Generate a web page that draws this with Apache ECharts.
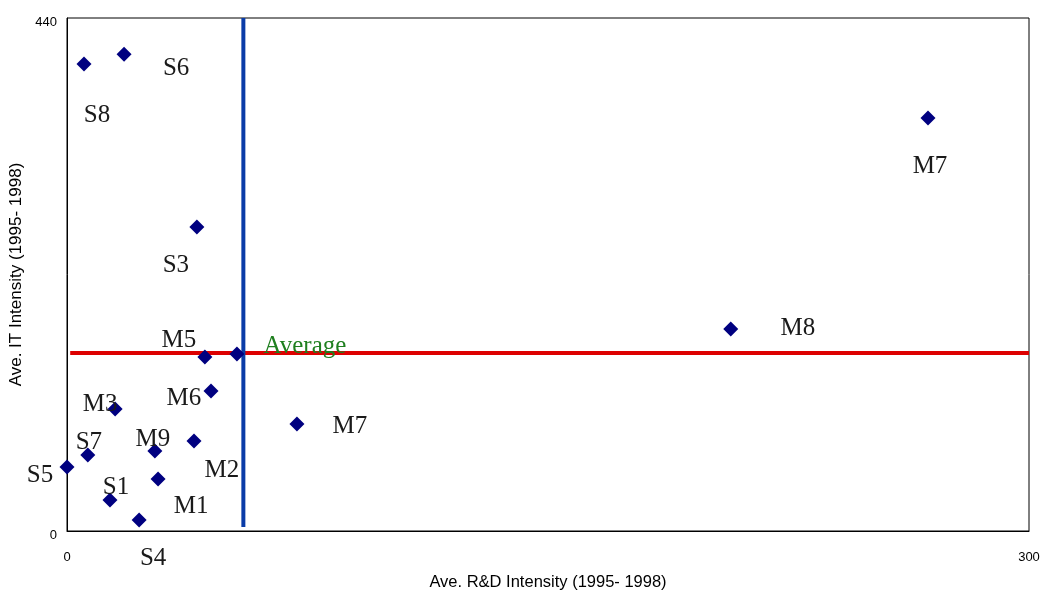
<!DOCTYPE html>
<html>
<head>
<meta charset="utf-8">
<script src="https://cdn.jsdelivr.net/npm/echarts@6/dist/echarts.min.js"></script>
<style>html,body{margin:0;padding:0;background:#fff;overflow:hidden}#c{width:1042px;height:590px}</style>
</head>
<body>
<div id="c"></div>
<script>
const names = ['S8','S6','S3','M5','Average','M6','M3','M9','M2','S7','S5','M1','S1','S4','M7','M8','M7'];
const rdIntensity = [5.3, 17.8, 40.5, 43.0, 53.0, 44.9, 15.0, 27.4, 39.6, 6.5, 0.0, 28.4, 13.4, 22.5, 71.7, 207.0, 268.5];
const itIntensity = [400.5, 409.0, 260.7, 149.2, 151.8, 120.0, 104.6, 68.6, 77.2, 65.2, 54.9, 44.6, 26.6, 9.4, 91.8, 173.2, 354.2];
const avgRD = 55;
const avgIT = 152.7;
const xTicks = [0, 300];
const yTicks = [0, 440];

// label placement (layout only)
const labelOffsets = [[13,51],[52,14],[-21,38],[-26,-17],[68,-8],[-27,7],[-15,-5],[-2,-12],[28,29],[1,-13],[-27,8],[33,27],[6,-13],[14,38],[53,2],[67,-1],[2,48]];

const pts = names.map((n,i)=>({
  name:n,
  value:[rdIntensity[i], itIntensity[i]],
  label:{
    show:true, position:'inside', offset:labelOffsets[i], formatter:n,
    color: n==='Average' ? '#1f7f1f' : '#1a1a1a',
    fontFamily:'Liberation Serif', fontSize:25
  }
}));

const chart = echarts.init(document.getElementById('c'), null, {renderer:'canvas'});
chart.setOption({
  animation:false,
  grid:{left:67, right:13, top:18, bottom:59, outerBoundsMode:'none', containLabel:false, show:true, borderColor:'#000', borderWidth:1},
  xAxis:{
    type:'value', min:xTicks[0], max:xTicks[1], interval:xTicks[1]-xTicks[0],
    name:'Ave. R&D Intensity (1995- 1998)', nameLocation:'middle', nameGap:43,
    nameTextStyle:{fontFamily:'Liberation Sans', fontSize:16.5, color:'#000'},
    axisLine:{lineStyle:{color:'#000', width:1}}, axisTick:{show:false}, splitLine:{show:false},
    axisLabel:{margin:20, fontFamily:'Liberation Sans', fontSize:13, color:'#000'}
  },
  yAxis:{
    type:'value', min:yTicks[0], max:yTicks[1], interval:yTicks[1]-yTicks[0],
    name:'Ave. IT Intensity (1995- 1998)', nameLocation:'middle', nameGap:35,
    nameTextStyle:{fontFamily:'Liberation Sans', fontSize:17, color:'#000'},
    axisLine:{lineStyle:{color:'#000', width:1}}, axisTick:{show:false}, splitLine:{show:false},
    axisLabel:{margin:10, fontFamily:'Liberation Sans', fontSize:13, color:'#000', lineHeight:9,
      formatter:v=>'\n'+v}
  },
  series:[
    {type:'line', data:[[1, avgIT],[300, avgIT]], symbol:'none', lineStyle:{color:'#dd0000', width:4}, z:2, silent:true},
    {type:'line', data:[[avgRD, 440],[avgRD, 3.5]], symbol:'none', lineStyle:{color:'#0a3ca8', width:4}, z:3, silent:true},
    {type:'scatter', data:pts, symbol:'diamond', symbolSize:[15,15], itemStyle:{color:'#000080', opacity:1}, z:5}
  ]
});
</script>
</body>
</html>
